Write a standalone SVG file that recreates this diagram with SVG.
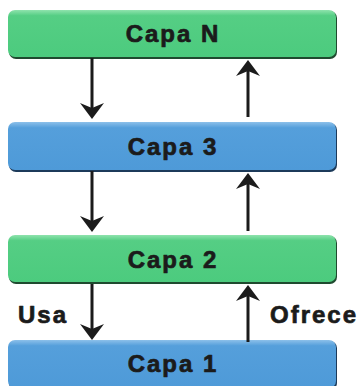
<svg xmlns="http://www.w3.org/2000/svg" width="360" height="386" viewBox="0 0 360 386">
  <style>
    .label { font-family: "Liberation Sans", Arial, sans-serif; font-weight: bold; font-size: 24px; letter-spacing: 2px; fill: #1b1b1b; stroke: #1b1b1b; stroke-width: 0.7; stroke-linejoin: round; }
    .title { text-anchor: middle; }
    .wire { stroke: #1b1b1b; stroke-width: 3; fill: none; marker-end: url(#head); }
    .shadow-g { fill: #1f4a2f; }
    .shadow-b { fill: #1c3a5a; }
  </style>
  <defs>
    <linearGradient id="greenFill" x1="0" y1="0" x2="0" y2="1">
      <stop offset="0" stop-color="#8fe3ad"/>
      <stop offset="0.12" stop-color="#55ce84"/>
      <stop offset="1" stop-color="#4ccb7e"/>
    </linearGradient>
    <linearGradient id="blueFill" x1="0" y1="0" x2="0" y2="1">
      <stop offset="0" stop-color="#8cc0ea"/>
      <stop offset="0.12" stop-color="#559fdb"/>
      <stop offset="1" stop-color="#4e9ad8"/>
    </linearGradient>
    <marker id="head" markerUnits="userSpaceOnUse" viewBox="0 0 16 24" markerWidth="16" markerHeight="24" refX="6" refY="12" orient="auto">
      <path d="M0,0 L16,12 L0,24 L5,12 Z" fill="#1b1b1b"/>
    </marker>
  </defs>

  <!-- layer stack -->
  <g id="capa-n">
    <rect class="shadow-g" x="9" y="11" width="328" height="48" rx="7"/>
    <rect x="8" y="10" width="328" height="47" rx="7" fill="url(#greenFill)"/>
    <text class="label title" x="173" y="42">Capa N</text>
  </g>
  <g id="capa-3">
    <rect class="shadow-b" x="9" y="123" width="328" height="49" rx="7"/>
    <rect x="8" y="122" width="328" height="48" rx="7" fill="url(#blueFill)"/>
    <text class="label title" x="173" y="155">Capa 3</text>
  </g>
  <g id="capa-2">
    <rect class="shadow-g" x="9" y="236" width="328" height="48" rx="7"/>
    <rect x="8" y="235" width="328" height="47" rx="7" fill="url(#greenFill)"/>
    <text class="label title" x="173" y="268">Capa 2</text>
  </g>
  <g id="capa-1">
    <rect class="shadow-b" x="9" y="341" width="328" height="49" rx="7"/>
    <rect x="8" y="340" width="328" height="48" rx="7" fill="url(#blueFill)"/>
    <text class="label title" x="173" y="372">Capa 1</text>
  </g>

  <!-- requests go down, services come back up -->
  <g id="connectors">
    <line class="wire" x1="92" y1="58" x2="92" y2="109"/>
    <line class="wire" x1="248" y1="117" x2="248" y2="70"/>
    <line class="wire" x1="92" y1="171" x2="92" y2="222"/>
    <line class="wire" x1="248" y1="231" x2="248" y2="183"/>
    <line class="wire" x1="92" y1="284" x2="92" y2="330"/>
    <line class="wire" x1="248" y1="342" x2="248" y2="295"/>
  </g>

  <g id="edge-labels">
    <text class="label" x="18" y="323">Usa</text>
    <text class="label" x="270" y="323">Ofrece</text>
  </g>
</svg>
